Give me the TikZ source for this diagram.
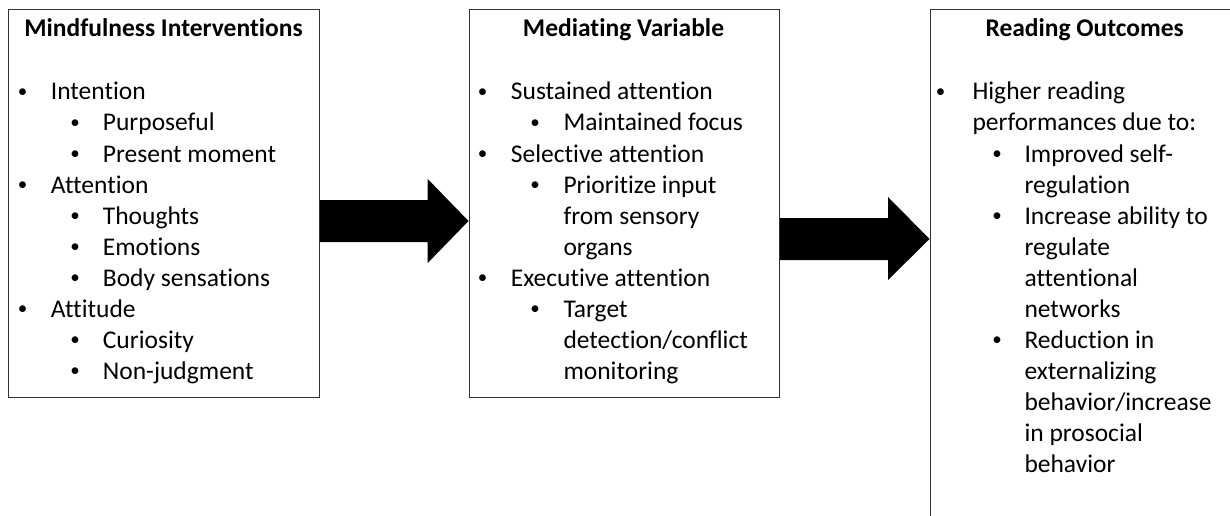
\documentclass[tikz,border=0pt]{standalone}
\usepackage{fontspec}
\setmainfont{Carlito}[Ligatures=CommonOff]
\begin{document}
\begin{tikzpicture}[x=1pt,y=-1pt,
  box/.style={draw=black!80,line width=1pt,rectangle,anchor=north west,inner sep=0},
  txt/.style={anchor=base west,inner sep=0,font=\fontsize{25.5}{31}\selectfont},
  ttl/.style={anchor=base,inner sep=0,font=\fontsize{25.5}{31}\selectfont\bfseries},
  bul/.style={anchor=base,inner sep=0,font=\fontsize{19}{31}\selectfont},
  blk/.style={fill=black}]
\clip (0,0) rectangle (1230,516);
\fill[white] (0,0) rectangle (1230,516);
\newcommand{\bt}{\raisebox{2.2pt}{\textbullet}}
% boxes
\node[box,minimum width=311pt,minimum height=388pt] (b1) at (8,9) {};
\node[box,minimum width=310.5pt,minimum height=388pt] (b2) at (468.5,9) {};
\node[box,minimum width=330pt,minimum height=540pt] (b3) at (929.5,9) {};
% arrows
\fill[blk] (b1.east |- 0,200) -- (427.7,200) -- (427.7,179) -- (b2.west |- 0,221)
  -- (427.7,263) -- (427.7,242) -- (b1.east |- 0,242) -- cycle;
\fill[blk] (b2.east |- 0,218) -- (888,218) -- (888,197) -- (b3.west |- 0,239)
  -- (888,280) -- (888,260) -- (b2.east |- 0,260) -- cycle;
% box 1
\node[ttl] (t1) at (163.5,36.7) {Mindfulness Interventions};
\node[bul] (p1) at (22.7,100) {\bt};
\node[txt] (a1) at (50.7,100) {Intention};
\node[bul] (p2) at (75,131) {\bt};
\node[txt] (a2) at (102.7,131) {Purposeful};
\node[bul] (p3) at (75,162) {\bt};
\node[txt] (a3) at (102.7,162) {Present moment};
\node[bul] (p4) at (22.7,193) {\bt};
\node[txt] (a4) at (50.7,193) {Attention};
\node[bul] (p5) at (75,224) {\bt};
\node[txt] (a5) at (102.7,224) {Thoughts};
\node[bul] (p6) at (75,255) {\bt};
\node[txt] (a6) at (102.7,255) {Emotions};
\node[bul] (p7) at (75,286) {\bt};
\node[txt] (a7) at (102.7,286) {Body sensations};
\node[bul] (p8) at (22.7,317) {\bt};
\node[txt] (a8) at (50.7,317) {Attitude};
\node[bul] (p9) at (75,348) {\bt};
\node[txt] (a9) at (102.7,348) {Curiosity};
\node[bul] (p10) at (75,379) {\bt};
\node[txt] (a10) at (102.7,379) {Non-judgment};
% box 2
\node[ttl] (t2) at (623.5,36.7) {Mediating Variable};
\node[bul] (q1) at (482.7,100) {\bt};
\node[txt] (m1) at (510.7,100) {Sustained attention};
\node[bul] (q2) at (535,131) {\bt};
\node[txt] (m2) at (563.3,131) {Maintained focus};
\node[bul] (q3) at (482.7,162) {\bt};
\node[txt] (m3) at (510.7,162) {Selective attention};
\node[bul] (q4) at (535,193) {\bt};
\node[txt] (m4) at (563.3,193) {Prioritize input};
\node[txt] (m5) at (563.3,224) {from sensory};
\node[txt] (m6) at (563.3,255) {organs};
\node[bul] (q5) at (482.7,286) {\bt};
\node[txt] (m7) at (510.7,286) {Executive attention};
\node[bul] (q6) at (535,317) {\bt};
\node[txt] (m8) at (563.3,317) {Target};
\node[txt] (m9) at (563.3,348) {detection/conflict};
\node[txt] (m10) at (563.3,379) {monitoring};
% box 3
\node[ttl] (t3) at (1084.7,36.7) {Reading Outcomes};
\node[bul] (r1) at (940.7,100) {\bt};
\node[txt] (o1) at (972.3,100) {Higher reading};
\node[txt] (o2) at (972.3,131) {performances due to:};
\node[bul] (r2) at (997,162) {\bt};
\node[txt] (o3) at (1024.3,162) {Improved self-};
\node[txt] (o4) at (1024.3,193) {regulation};
\node[bul] (r3) at (997,224) {\bt};
\node[txt] (o5) at (1024.3,224) {Increase ability to};
\node[txt] (o6) at (1024.3,255) {regulate};
\node[txt] (o7) at (1024.3,286) {attentional};
\node[txt] (o8) at (1024.3,317) {networks};
\node[bul] (r4) at (997,348) {\bt};
\node[txt] (o9) at (1024.3,348) {Reduction in};
\node[txt] (o10) at (1024.3,379) {externalizing};
\node[txt] (o11) at (1024.3,410) {behavior/increase};
\node[txt] (o12) at (1024.3,441) {in prosocial};
\node[txt] (o13) at (1024.3,472) {behavior};
\end{tikzpicture}
\end{document}
